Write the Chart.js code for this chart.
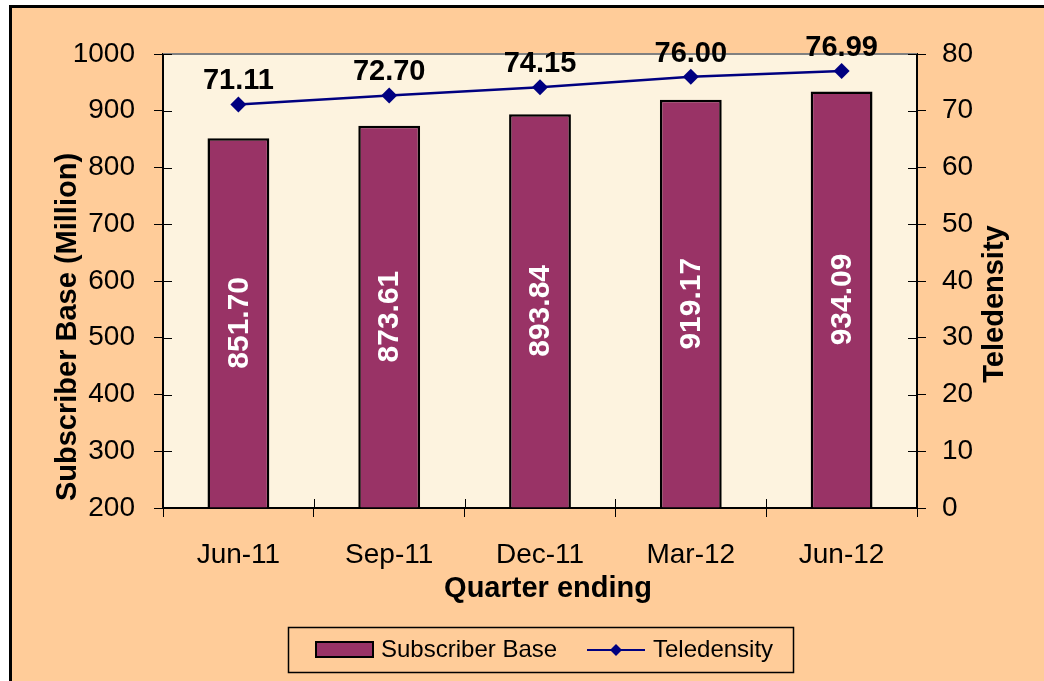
<!DOCTYPE html>
<html>
<head>
<meta charset="utf-8">
<title>Subscriber Base and Teledensity</title>
<script src="https://cdn.jsdelivr.net/npm/chart.js@4/dist/chart.umd.min.js"></script>
<style>
  html, body { margin: 0; padding: 0; background: #fff; }
  #wrap { width: 1044px; height: 681px; position: relative; }
</style>
</head>
<body>
<div id="wrap"><canvas id="subsChart" width="1044" height="681"></canvas></div>
<script>
// chart data
const quarters = ['Jun-11', 'Sep-11', 'Dec-11', 'Mar-12', 'Jun-12'];
const subscriberBase = [851.70, 873.61, 893.84, 919.17, 934.09];
const teledensity = [71.11, 72.70, 74.15, 76.00, 76.99];
const leftTicks = [200, 300, 400, 500, 600, 700, 800, 900, 1000];
const rightTicks = [0, 10, 20, 30, 40, 50, 60, 70, 80];

const FONT = "'Liberation Sans', Arial, sans-serif";
const BAR_COLOR = '#993366';
const LINE_COLOR = '#000080';

// frame, plot background, titles, data labels and legend
const chartDecor = {
  id: 'chartDecor',
  beforeDraw(chart) {
    const ctx = chart.ctx;
    const a = chart.chartArea;
    ctx.save();
    ctx.fillStyle = '#fff';
    ctx.fillRect(0, 0, chart.width, chart.height);
    ctx.fillStyle = '#FFCC99';
    ctx.fillRect(11, 8, chart.width, chart.height);
    ctx.fillStyle = '#000';
    ctx.fillRect(9, 5, chart.width, 3);
    ctx.fillRect(9, 5, 3, chart.height);
    ctx.fillStyle = '#FDF3DF';
    ctx.fillRect(a.left, a.top, a.right - a.left, a.bottom - a.top);
    ctx.restore();
  },
  afterDatasetsDraw(chart) {
    const ctx = chart.ctx;
    const a = chart.chartArea;
    ctx.save();

    // gray top border of plot area
    ctx.strokeStyle = '#808080';
    ctx.lineWidth = 2;
    ctx.beginPath();
    ctx.moveTo(a.left, a.top);
    ctx.lineTo(a.right, a.top);
    ctx.stroke();

    // inner half of the cross tick marks
    ctx.strokeStyle = '#000';
    ctx.lineWidth = 1;
    const ys = chart.scales.y, y1 = chart.scales.y1, xs = chart.scales.x;
    ctx.beginPath();
    ys.ticks.forEach((t, i) => {
      const py = Math.round(ys.getPixelForTick(i)) + 0.5;
      ctx.moveTo(a.left, py); ctx.lineTo(a.left + 9, py);
    });
    y1.ticks.forEach((t, i) => {
      const py = Math.round(y1.getPixelForTick(i)) + 0.5;
      ctx.moveTo(a.right - 9, py); ctx.lineTo(a.right, py);
    });
    for (let i = 1; i < quarters.length; i++) {
      const px = Math.round(xs.getPixelForValue(i - 0.5)) + 0.5;
      ctx.moveTo(px, a.bottom - 9); ctx.lineTo(px, a.bottom);
    }
    ctx.stroke();

    // bar value labels (rotated, white)
    const barMeta = chart.getDatasetMeta(0);
    ctx.fillStyle = '#fff';
    ctx.font = 'bold 30px ' + FONT;
    ctx.textAlign = 'center';
    ctx.textBaseline = 'middle';
    barMeta.data.forEach((bar, i) => {
      const cy = (bar.y + bar.base) / 2;
      ctx.save();
      ctx.translate(bar.x, cy);
      ctx.rotate(-Math.PI / 2);
      ctx.fillText(subscriberBase[i].toFixed(2), 0, 1);
      ctx.restore();
    });

    // line value labels
    const lineMeta = chart.getDatasetMeta(1);
    ctx.fillStyle = '#000';
    ctx.font = 'bold 29px ' + FONT;
    ctx.textBaseline = 'alphabetic';
    lineMeta.data.forEach((pt, i) => {
      ctx.fillText(teledensity[i].toFixed(2), pt.x, pt.y - 15);
    });
    ctx.restore();
  },
  afterDraw(chart) {
    const ctx = chart.ctx;
    ctx.save();

    // axis titles
    ctx.fillStyle = '#000';
    ctx.font = 'bold 29px ' + FONT;
    ctx.textAlign = 'center';
    ctx.textBaseline = 'middle';
    ctx.save();
    ctx.translate(68, 327);
    ctx.rotate(-Math.PI / 2);
    ctx.fillText('Subscriber Base (Million)', 0, 0);
    ctx.restore();
    ctx.save();
    ctx.translate(995, 304);
    ctx.rotate(-Math.PI / 2);
    ctx.fillText('Teledensity', 0, 0);
    ctx.restore();
    ctx.textBaseline = 'alphabetic';
    ctx.fillText('Quarter ending', 548, 597);

    // legend
    const ds = chart.data.datasets;
    ctx.strokeStyle = '#000';
    ctx.lineWidth = 1.5;
    ctx.strokeRect(288.5, 627.5, 505, 45);

    ctx.fillStyle = ds[0].backgroundColor;
    ctx.fillRect(316, 642, 57, 15);
    ctx.lineWidth = 2;
    ctx.strokeRect(316, 642, 57, 15);

    ctx.strokeStyle = ds[1].borderColor;
    ctx.lineWidth = 2;
    ctx.beginPath();
    ctx.moveTo(587, 650); ctx.lineTo(645, 650);
    ctx.stroke();
    ctx.fillStyle = ds[1].borderColor;
    ctx.beginPath();
    ctx.moveTo(616, 644); ctx.lineTo(622, 650); ctx.lineTo(616, 656); ctx.lineTo(610, 650);
    ctx.closePath();
    ctx.fill();

    ctx.fillStyle = '#000';
    ctx.font = '24px ' + FONT;
    ctx.textAlign = 'left';
    ctx.textBaseline = 'middle';
    ctx.fillText(ds[0].label, 381, 650);
    ctx.fillText(ds[1].label, 653, 650);
    ctx.restore();
  }
};

const ctx = document.getElementById('subsChart').getContext('2d');
const subsChart = new Chart(ctx, {
  type: 'bar',
  data: {
    labels: quarters,
    datasets: [
      {
        type: 'bar',
        label: 'Subscriber Base',
        data: subscriberBase,
        yAxisID: 'y',
        base: 200,
        backgroundColor: BAR_COLOR,
        borderColor: '#000',
        borderWidth: 2.5,
        borderSkipped: 'start',
        barPercentage: 0.41,
        categoryPercentage: 1,
        order: 1
      },
      {
        type: 'line',
        label: 'Teledensity',
        data: teledensity,
        yAxisID: 'y1',
        borderColor: LINE_COLOR,
        backgroundColor: LINE_COLOR,
        borderWidth: 2.5,
        tension: 0,
        pointStyle: 'rectRot',
        pointRadius: 8,
        pointBackgroundColor: LINE_COLOR,
        pointBorderColor: LINE_COLOR,
        pointBorderWidth: 0,
        order: 0
      }
    ]
  },
  options: {
    responsive: false,
    animation: false,
    layout: { padding: { top: 54, left: 0, right: 0, bottom: 0 } },
    plugins: {
      legend: { display: false },
      tooltip: { enabled: false }
    },
    scales: {
      x: {
        offset: true,
        grid: { offset: true, drawOnChartArea: false, tickLength: 9, color: '#000' },
        border: { color: '#000', width: 2 },
        ticks: { color: '#000', font: { family: FONT, size: 28 }, padding: 21, maxRotation: 0 },
        afterFit(scale) { scale.height = 173; }
      },
      y: {
        position: 'left',
        min: 200,
        max: 1000,
        grid: { drawOnChartArea: false, tickLength: 9, color: '#000' },
        border: { color: '#000', width: 2 },
        ticks: {
          color: '#000', font: { family: FONT, size: 28 }, padding: 19,
          callback: value => String(value)
        },
        afterBuildTicks(scale) { scale.ticks = leftTicks.map(v => ({ value: v })); },
        afterFit(scale) { scale.width = 163; }
      },
      y1: {
        position: 'right',
        min: 0,
        max: 80,
        grid: { drawOnChartArea: false, tickLength: 9, color: '#000' },
        border: { color: '#000', width: 2 },
        ticks: {
          color: '#000', font: { family: FONT, size: 28 }, padding: 16,
          callback: value => String(value)
        },
        afterBuildTicks(scale) { scale.ticks = rightTicks.map(v => ({ value: v })); },
        afterFit(scale) { scale.width = 127; }
      }
    }
  },
  plugins: [chartDecor]
});
</script>
</body>
</html>
